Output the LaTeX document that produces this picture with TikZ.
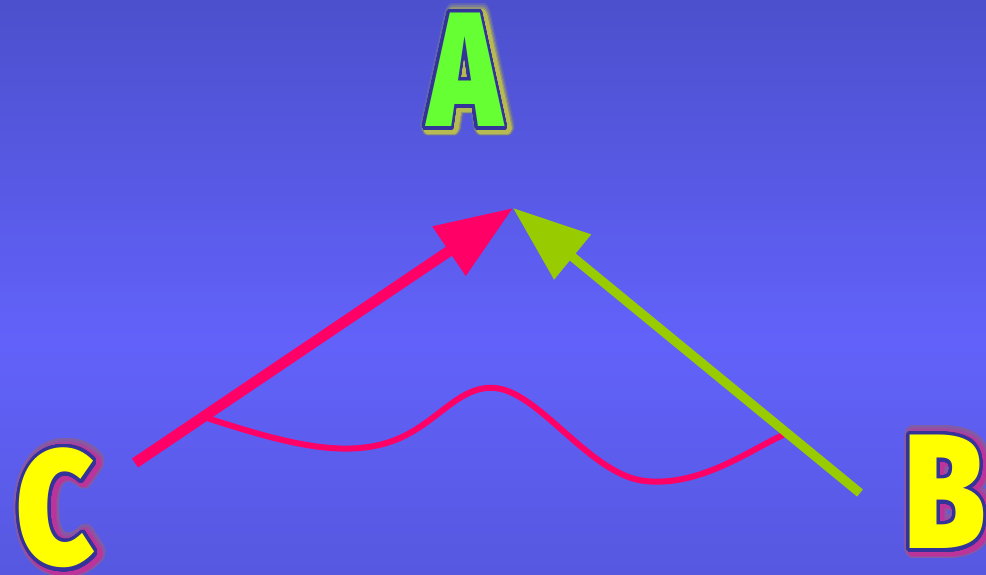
\documentclass[tikz,border=0pt]{standalone}
\usepackage{fontspec}
\usepackage{graphicx}
\usepackage{contour}
\usetikzlibrary{arrows.meta}
\newfontfamily\bigletter{Fira Sans Black}
\definecolor{bgtop}{HTML}{4C50CC}
\definecolor{bgmid}{HTML}{6262FA}
\definecolor{bgbot}{HTML}{5658E0}
\definecolor{hotpink}{HTML}{FF0066}
\definecolor{lime}{HTML}{99CC00}
\definecolor{letgreen}{HTML}{66FF33}
\definecolor{letyellow}{HTML}{FFFF00}
\definecolor{rim}{HTML}{33339A}
\newcommand{\bigglyph}[5][0.75]{\scalebox{#1}[1]{\fontsize{116}{116}\bigletter\contournumber{64}\contourlength{#4}\color{#2}\contour{#3}{#5}}}

\begin{document}
\begin{tikzpicture}[x=0.025cm, y=-0.025cm, lt/.style={inner sep=0pt, anchor=center}, pinkarr/.style={-{Triangle[length=1.93cm, width=1.42cm]}, line width=0.27cm, hotpink}, limearr/.style={-{Triangle[length=1.93cm, width=1.40cm]}, line width=0.23cm, lime}, wave/.style={line width=0.15cm, hotpink}]
\useasboundingbox (0,0) rectangle (986,574);
\shade[top color=bgtop, bottom color=bgmid] (0,0) rectangle (986,341);
\shade[top color=bgmid, bottom color=bgbot] (0,340) rectangle (986,574);
\coordinate (apex) at (513,208);\coordinate (cstart) at (135,463);\coordinate (bstart) at (860,493);
\coordinate (w0) at (207,418);\coordinate (w1) at (400,438);\coordinate (w2) at (495,388);\coordinate (w3) at (645,481);\coordinate (w4) at (783,435);
\foreach \g/\r in {12/7pt,25/5.8pt,40/4.8pt,60/3.8pt}{
\node[lt] (aglow\g) at (468,75) {\bigglyph{letyellow!\g!bgtop}{letyellow!\g!bgtop}{\r}{A}};
\node[lt] (cglow\g) at (59,513) {\bigglyph[0.82]{magenta!\g!bgbot}{magenta!\g!bgbot}{\r}{C}};
\node[lt] (bglow\g) at (948,497) {\bigglyph[0.8]{magenta!\g!bgbot}{magenta!\g!bgbot}{\r}{B}};
}
\node[lt] (a) at (465,72) {\bigglyph{letgreen}{rim}{2.6pt}{A}};
\node[lt] (c) at (56,510) {\bigglyph[0.82]{letyellow}{rim}{2.6pt}{C}};
\node[lt] (b) at (945,494) {\bigglyph[0.8]{letyellow}{rim}{2.6pt}{B}};
\draw[wave] (w0) .. controls (290,445) and (350,460) .. (w1) .. controls (440,420) and (460,385) .. (w2) .. controls (540,392) and (590,475) .. (w3) .. controls (700,487) and (750,450) .. (w4);
\draw[pinkarr] (cstart) -- (apex);
\draw[limearr] (bstart) -- (apex);
\end{tikzpicture}
\end{document}
